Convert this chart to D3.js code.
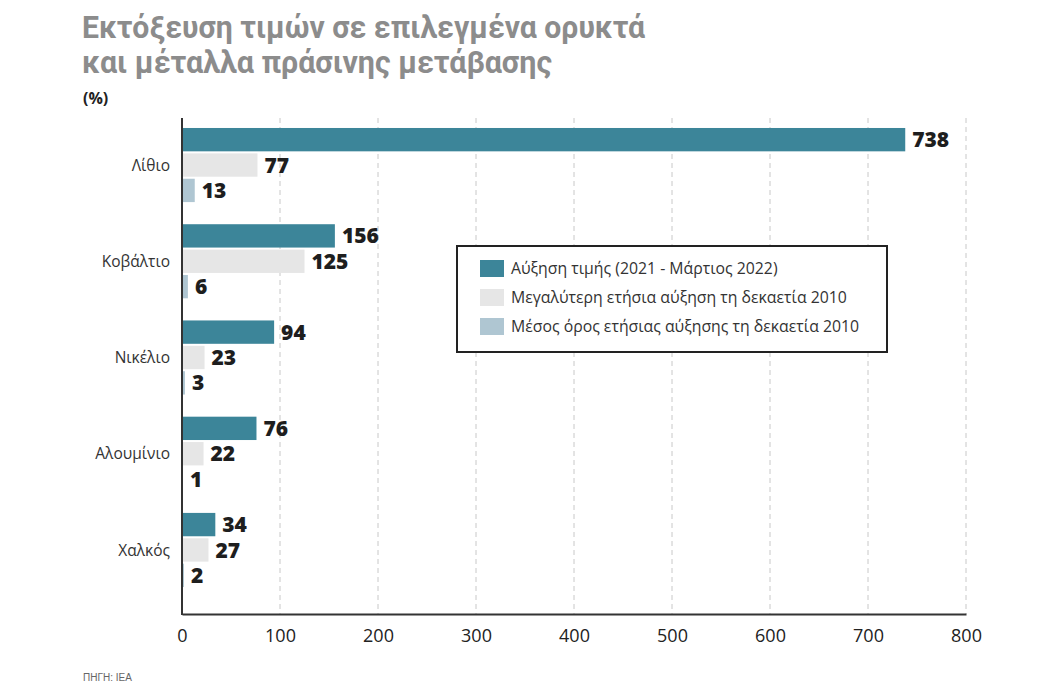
<!DOCTYPE html>
<html><head><meta charset="utf-8">
<script src="https://cdn.jsdelivr.net/npm/d3@7"></script>
<style>
html,body{margin:0;padding:0;background:#fff;}
svg{display:block;}
</style></head>
<body>
<svg id="chart" width="1038" height="685"></svg>
<script>
const categories = ["Λίθιο","Κοβάλτιο","Νικέλιο","Αλουμίνιο","Χαλκός"];
const seriesNames = ["Αύξηση τιμής (2021 - Μάρτιος 2022)","Μεγαλύτερη ετήσια αύξηση τη δεκαετία 2010","Μέσος όρος ετήσιας αύξησης τη δεκαετία 2010"];
const priceRise = [738,156,94,76,34];
const maxAnnual = [77,125,23,22,27];
const avgAnnual = [13,6,3,1,2];
const xTicks = [0,100,200,300,400,500,600,700,800];
const colors = ["#3c8599","#e6e6e6","#afc6d2"];

(function(){
const svg = d3.select("#chart");
const pLeft = 182, pRight = 966, pTop = 118, pBottom = 614;
const x = d3.scaleLinear().domain([0,800]).range([pLeft,pRight]);
const y = d3.scaleBand().domain(categories).range([117.4,597.6]).paddingInner(0.23).paddingOuter(0.11);
const sub = d3.scaleBand().domain([0,1,2]).range([0,y.bandwidth()]).paddingInner(0.08);
const series = [priceRise,maxAnnual,avgAnnual];

// Title
const titleFont = "Roboto, 'Liberation Sans', sans-serif";
svg.append("text").attr("x",82).attr("y",37.5).attr("font-family",titleFont).attr("font-weight",700)
  .attr("font-size",30.5).attr("fill","#8c8c8c").attr("textLength",563).attr("lengthAdjust","spacingAndGlyphs")
  .text("Εκτόξευση τιμών σε επιλεγμένα ορυκτά");
svg.append("text").attr("x",82).attr("y",72.5).attr("font-family",titleFont).attr("font-weight",700)
  .attr("font-size",30.5).attr("fill","#8c8c8c").attr("textLength",470).attr("lengthAdjust","spacingAndGlyphs")
  .text("και μέταλλα πράσινης μετάβασης");
svg.append("text").attr("x",83).attr("y",104).attr("font-family","'Open Sans', sans-serif").attr("font-weight",700)
  .attr("font-size",16).attr("fill","#222").text("(%)");

// gridlines
svg.append("g").selectAll("line").data(xTicks.filter(d=>d>0)).join("line")
  .attr("x1",d=>x(d)).attr("x2",d=>x(d)).attr("y1",pTop).attr("y2",pBottom)
  .attr("stroke","#c8c8c8").attr("stroke-width",1).attr("stroke-dasharray","5,4");

// bars
const groups = svg.append("g").selectAll("g").data(categories).join("g")
  .attr("transform",d=>`translate(0,${y(d)})`);
series.forEach((vals,si)=>{
  groups.append("rect").attr("x",x(0)).attr("y",sub(si))
    .attr("width",(d,i)=>x(vals[i])-x(0)).attr("height",sub.bandwidth()).attr("fill",colors[si]);
  groups.append("text").attr("x",(d,i)=>x(vals[i])+7).attr("y",sub(si)+sub.bandwidth()/2)
    .attr("dy","0.36em").attr("font-family","'Open Sans', sans-serif").attr("font-weight",800)
    .attr("font-size",21).attr("fill","#1e1e1e").text((d,i)=>vals[i]);
});

// category labels
svg.append("g").selectAll("text").data(categories).join("text")
  .attr("x",170).attr("y",d=>y(d)+y.bandwidth()/2).attr("dy","0.36em").attr("text-anchor","end")
  .attr("font-family","'Open Sans', sans-serif").attr("font-size",15.5).attr("fill","#333").text(d=>d);

// axes
const xAxis = svg.append("g").attr("transform",`translate(0,${pBottom})`)
  .call(d3.axisBottom(x).tickValues(xTicks).tickSize(0).tickPadding(15));
xAxis.select(".domain").attr("stroke","#333").attr("stroke-width",2.2);
xAxis.selectAll("text").attr("font-family","'Open Sans', sans-serif").attr("font-size",18).attr("fill","#222");
svg.append("line").attr("x1",pLeft).attr("x2",pLeft).attr("y1",pTop).attr("y2",pBottom+1)
  .attr("stroke","#333").attr("stroke-width",2);

// legend
const lg = svg.append("g");
lg.append("rect").attr("x",457).attr("y",246).attr("width",430).attr("height",106)
  .attr("fill","#fff").attr("stroke","#222").attr("stroke-width",2);
seriesNames.forEach((n,i)=>{
  const yy = 268 + i*29;
  lg.append("rect").attr("x",480).attr("y",yy-8).attr("width",24).attr("height",17).attr("fill",colors[i]);
  lg.append("text").attr("x",511).attr("y",yy).attr("dy","0.36em")
    .attr("font-family","'Open Sans', sans-serif").attr("font-size",15.8).attr("fill","#333").text(n);
});

// source
svg.append("text").attr("x",83).attr("y",681).attr("font-family","'Liberation Sans', sans-serif")
  .attr("font-size",10).attr("fill","#666").text("ΠΗΓΗ: IEA");
})();
</script>
</body></html>
